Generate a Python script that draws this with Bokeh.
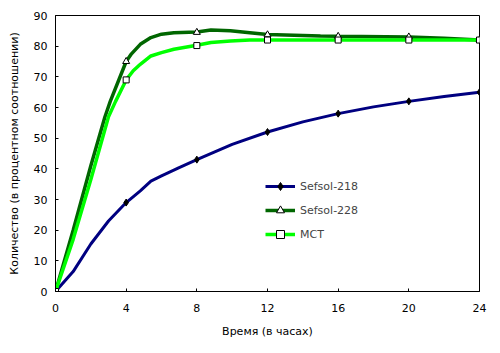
from bokeh.plotting import figure
from bokeh.models import Range1d, FixedTicker, Legend, LegendItem
from bokeh.embed import file_html
from bokeh.resources import INLINE

# Marker data (hours, percent)
hours = [0, 4, 8, 12, 16, 20, 24]
sefsol218 = [0, 29, 43, 52, 58, 62, 65]
sefsol228 = [0, 75, 84.5, 83.7, 83.2, 83, 82]
mct = [0, 69, 80.2, 82, 82, 82, 82]

# Drawn (smoothed) curves
curve218_t = [0, 1, 2, 3, 4, 4.8, 5.4, 6, 7, 8, 10, 12, 14, 16, 18, 20, 22, 24]
curve218_v = [0, 6.5, 15.5, 23, 29, 32.8, 36, 37.7, 40.4, 43, 48, 52, 55.3, 58, 60.2, 62, 63.6, 65]
curve228_t = [0, 1, 2, 2.8, 3.1, 4, 4.3, 4.8, 5.4, 6, 6.7, 8, 8.8, 9.9, 11, 12, 15, 16, 20, 22, 24]
curve228_v = [0, 20, 41, 57, 62, 75, 77.5, 80.6, 82.8, 83.9, 84.4, 84.6, 85.3, 85, 84.4, 83.8, 83.3, 83.2, 83, 82.6, 82]
curvemct_t = [0, 1, 2, 3, 3.4, 4, 4.4, 4.8, 5.4, 6, 6.7, 8, 8.8, 9.9, 11, 12, 24]
curvemct_v = [0, 17, 36.5, 57, 62, 69, 72, 74.1, 76.8, 77.9, 79, 80.3, 81.2, 81.7, 82, 82, 82]

x_ticks = [0, 4, 8, 12, 16, 20, 24]
y_ticks = [0, 10, 20, 30, 40, 50, 60, 70, 80, 90]

FONT = "DejaVu Sans"

p = figure(width=500, height=353, output_backend="svg", toolbar_location=None,
           x_range=Range1d(0, 24), y_range=Range1d(0, 90),
           min_border_left=55, min_border_right=21, min_border_top=15, min_border_bottom=62)
p.background_fill_color = "white"
p.border_fill_color = "white"
p.outline_line_color = "black"
p.outline_line_width = 1
p.xgrid.visible = False
p.ygrid.visible = False

for ax in (p.xaxis, p.yaxis):
    ax.axis_line_color = "black"
    ax.major_tick_line_color = "black"
    ax.major_tick_in = 3
    ax.major_tick_out = 0
    ax.minor_tick_line_color = None
    ax.major_label_text_font = FONT
    ax.major_label_text_font_size = "11px"
    ax.major_label_text_color = "black"
    ax.axis_label_text_font = FONT
    ax.axis_label_text_font_size = "11px"
    ax.axis_label_text_font_style = "normal"
    ax.axis_label_text_color = "black"

p.xaxis.ticker = FixedTicker(ticks=x_ticks)
p.yaxis.ticker = FixedTicker(ticks=y_ticks)
p.xaxis.axis_label = "Время (в часах)"
p.yaxis.axis_label = "Количество (в процентном соотношении)"
p.xaxis.major_label_standoff = 12
p.yaxis.major_label_standoff = 8
p.xaxis.axis_label_standoff = 10
p.yaxis.axis_label_standoff = 10

l1 = p.line(curve218_t, curve218_v, line_color="#000080", line_width=3)
l2 = p.line(curve228_t, curve228_v, line_color="#006600", line_width=3.5)
l3 = p.line(curvemct_t, curvemct_v, line_color="#00FF00", line_width=3.5)

m1 = p.scatter(hours, sefsol218, marker="diamond", size=7, fill_color="black", line_color="black")
m2 = p.scatter(hours, sefsol228, marker="triangle", size=7, fill_color="white", line_color="black", line_width=1)
m3 = p.scatter(hours, mct, marker="square", size=6, fill_color="white", line_color="black", line_width=1)

legend = Legend(items=[
    LegendItem(label="Sefsol-218", renderers=[l1, m1]),
    LegendItem(label="Sefsol-228", renderers=[l2, m2]),
    LegendItem(label="MCT", renderers=[l3, m3]),
], location=(210, 47))
legend.background_fill_alpha = 0
legend.border_line_color = None
legend.padding = 0
legend.margin = 0
legend.spacing = 4
legend.glyph_width = 30
legend.glyph_height = 20
legend.label_standoff = 5
legend.label_text_font = FONT
legend.label_text_font_size = "11px"
legend.label_height = 20
p.add_layout(legend, "center")

open("out.html", "w").write(file_html(p, INLINE))
